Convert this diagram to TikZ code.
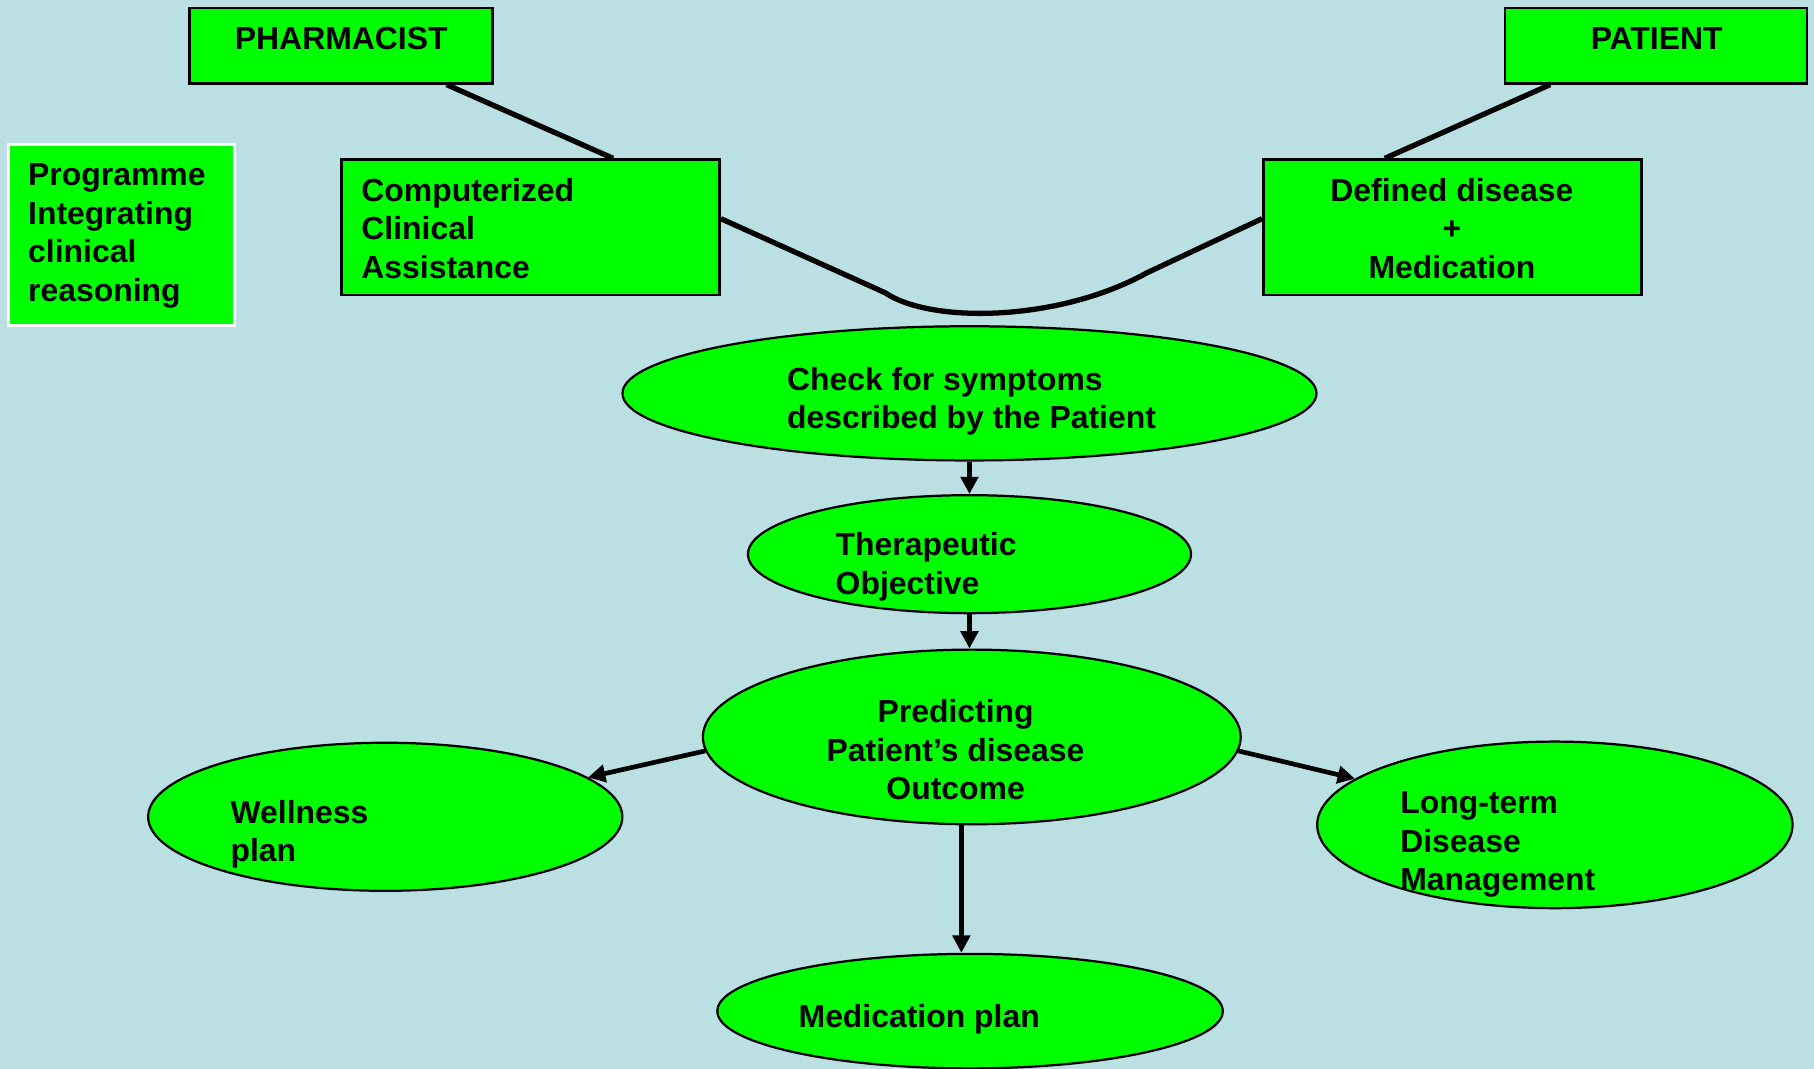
\documentclass[tikz,border=0pt]{standalone}
\usepackage{fontspec}
\setmainfont{Liberation Sans}
\usetikzlibrary{shapes.geometric,arrows.meta,calc}
\definecolor{bg}{HTML}{BBE0E3}
\definecolor{grn}{HTML}{00FF00}
\begin{document}
\begin{tikzpicture}[x=0.02cm,y=-0.02cm,
  every node/.style={font=\fontsize{15.7}{18.9}\selectfont\bfseries, inner sep=0pt, text=black},
  box/.style={draw=black, line width=1.3pt, fill=grn, rectangle},
  oval/.style={draw=black, line width=1.1pt, fill=grn, ellipse},
  txt/.style={align=left, anchor=west},
  ctxt/.style={align=center, anchor=center},
  conn/.style={line width=2.6pt},
  arr/.style={line width=2.3pt, -{Triangle[length=8.5pt,width=8.5pt]}}]
\fill[bg] (0,0) rectangle (1568,924);
\useasboundingbox (0,0) rectangle (1568,924);

% boxes
\node[box, minimum width=5.24cm, minimum height=1.3cm] (pharm) at (295,39.5) {};
\node[box, minimum width=5.22cm, minimum height=1.3cm] (pat) at (1431.5,39.5) {};
\node[box, draw=white, line width=1.5pt, minimum width=3.92cm, minimum height=3.12cm] (prog) at (105,203) {};
\node[box, minimum width=6.54cm, minimum height=2.34cm] (comp) at (458.5,196.5) {};
\node[box, minimum width=6.54cm, minimum height=2.34cm] (def) at (1255.5,196.5) {};

% ellipses
\node[oval, minimum width=12cm, minimum height=2.32cm] (check) at (838,340) {};
\node[oval, minimum width=7.66cm, minimum height=2.04cm] (ther) at (838,479) {};
\node[oval, minimum width=9.3cm, minimum height=3.02cm] (pred) at (840,637) {};
\node[oval, minimum width=8.2cm, minimum height=2.56cm] (well) at (333,706) {};
\node[oval, minimum width=8.22cm, minimum height=2.88cm] (long) at (1344,713) {};
\node[oval, minimum width=8.74cm, minimum height=1.98cm] (med) at (838.5,874) {};

% texts
\node[ctxt] (pharmT) at (295,33) {PHARMACIST};
\node[ctxt] (patT) at (1432,33) {PATIENT};
\node[txt] (progT) at (24,204) {Programme\\Integrating\\clinical\\reasoning};
\node[txt] (compT) at (312,197.5) {Computerized\\Clinical\\Assistance};
\node[ctxt] (defT) at (1255,197.5) {Defined disease\\+\\Medication};
\node[txt] (checkT) at (680,347) {Check for symptoms\\described by the Patient};
\node[txt] (therT) at (722,490) {Therapeutic\\Objective};
\node[ctxt] (predT) at (826,648) {Predicting\\Patient’s disease\\Outcome};
\node[txt] (wellT) at (199,721) {Wellness\\plan};
\node[txt] (longT) at (1210,730) {Long-term\\Disease\\Management};
\node[txt] (medT) at (690,881) {Medication plan};

% connectors
\draw[conn] ($(pharm.south)+(91,0)$) -- ($(comp.north)+(71.5,0)$);
\draw[conn] ($(pat.south)+(-91.5,0)$) -- ($(def.north)+(-58.5,0)$);
\draw[conn] ($(comp.east)+(0,-7.5)$) -- (765,253)
  .. controls (805,280) and (915,278) .. (991,236)
  -- ($(def.west)+(0,-7.5)$);

% arrows
\draw[arr] (check.south) -- (ther.north);
\draw[arr] (ther.south) -- (ther.south |- pred.north);
\draw[arr] (pred.183) -- (well.11);
\draw[arr] (pred.-3) -- (long.167);
\draw[arr] ($(pred.south)+(-9,0)$) -- ($(med.north)+(-7.5,0)$);
\end{tikzpicture}
\end{document}
